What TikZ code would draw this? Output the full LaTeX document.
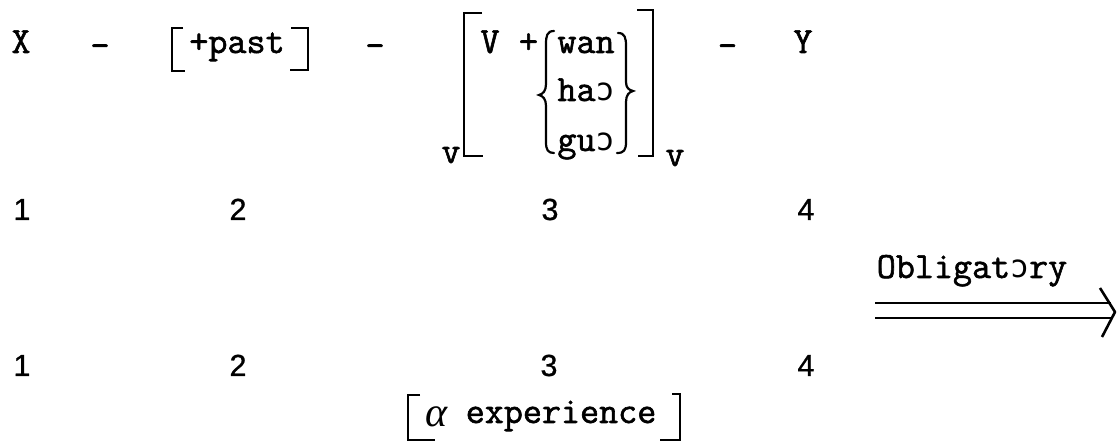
\documentclass[tikz,border=0pt]{standalone}
\usepackage{fontspec}
\newfontfamily\twfont{Latin Modern Mono}[FakeBold=1.6]
\newfontfamily\digfont{Liberation Sans}[FakeBold=0.8]
\newfontfamily\ipafont{DejaVu Sans Mono}
\newfontfamily\grkfont{Liberation Serif}
\newcommand{\opn}{{\ipafont\fontsize{31.5pt}{31.5pt}\selectfont ɔ}}
\begin{document}
\begin{tikzpicture}[x=1pt,y=-1pt,
  tw/.style={inner sep=0pt, anchor=base, font=\twfont\fontsize{37pt}{42pt}\selectfont},
  dg/.style={inner sep=0pt, anchor=base, font=\digfont\fontsize{30.5pt}{34pt}\selectfont},
  brk/.style={line width=2.6pt, line cap=butt, line join=miter},
  brc/.style={line width=2.2pt, line cap=round},
  arr/.style={line width=2.6pt, line cap=butt}]
\useasboundingbox (0,0) rectangle (1117,443);
% row 1
\node[tw] (X) at (21,53) {X};
\node[tw] (h1) at (100,57) {-};
\node[tw] (pst) at (237,53) {+past};
\draw[brk] (183,28) -- (172,28) -- (172,71) -- (185,71);
\draw[brk] (291,28) -- (308,28) -- (308,70) -- (290,70);
\node[tw] (h2) at (375,57) {-};
\draw[brk] (482,13) -- (464,13) -- (464,156) -- (483,156);
\node[tw] (sv1) at (451,163) {v};
\node[tw] (V) at (490,53) {V};
\node[tw] (pl) at (528.5,53) {+};
\node[tw] (w1) at (586,53) {wan};
\node[tw] (w2) at (586,101) {ha\opn};
\node[tw] (w3) at (586,151) {gu\opn};
\draw[brc] (554,31) .. controls (547,31) and (546,36) .. (546,44) -- (546,84) .. controls (546,91) and (543,94) .. (539,95) .. controls (543,96) and (546,99) .. (546,106) -- (546,142) .. controls (546,150) and (548,153) .. (554,153);
\draw[brc] (618,33) .. controls (625,33) and (626,38) .. (626,46) -- (626,82) .. controls (626,88) and (629,90) .. (633,91) .. controls (629,92) and (626,95) .. (626,102) -- (626,142) .. controls (626,150) and (624,153) .. (617,153);
\draw[brk] (637,10) -- (653,10) -- (653,156) -- (638,156);
\node[tw] (sv2) at (675,166) {v};
\node[tw] (h3) at (727.5,57) {-};
\node[tw] (Y) at (803,53) {Y};
% numbers row 1
\node[dg] (n1) at (22,220) {1};
\node[dg] (n2) at (238,220) {2};
\node[dg] (n3) at (550,220) {3};
\node[dg] (n4) at (806,220) {4};
% arrow
\node[tw] (ob) at (972,278) {Obligat\opn ry};
\coordinate (a1) at (875,303);
\coordinate (a2) at (1111,303);
\coordinate (b1) at (875,318);
\coordinate (b2) at (1111,318);
\coordinate (k1) at (1100,288);
\coordinate (tip) at (1115,312);
\coordinate (k2) at (1102,337);
\draw[arr] (a1) -- (a2);
\draw[arr] (b1) -- (b2);
\draw[arr, line join=round] (k1) -- (tip) -- (k2);
% numbers row 2
\node[dg] (m1) at (22,376) {1};
\node[dg] (m2) at (238,376) {2};
\node[dg] (m3) at (549,376) {3};
\node[dg] (m4) at (806,376) {4};
% bottom feature
\node[inner sep=0pt, anchor=base, font=\grkfont\itshape\fontsize{42pt}{42pt}\selectfont] (al) at (437,427) {α};
\node[tw] (exp) at (561,423) {experience};
\draw[brk] (420,395) -- (408,395) -- (408,440) -- (435,440);
\draw[brk] (672,394) -- (680,394) -- (680,440) -- (660,440);
\end{tikzpicture}
\end{document}
